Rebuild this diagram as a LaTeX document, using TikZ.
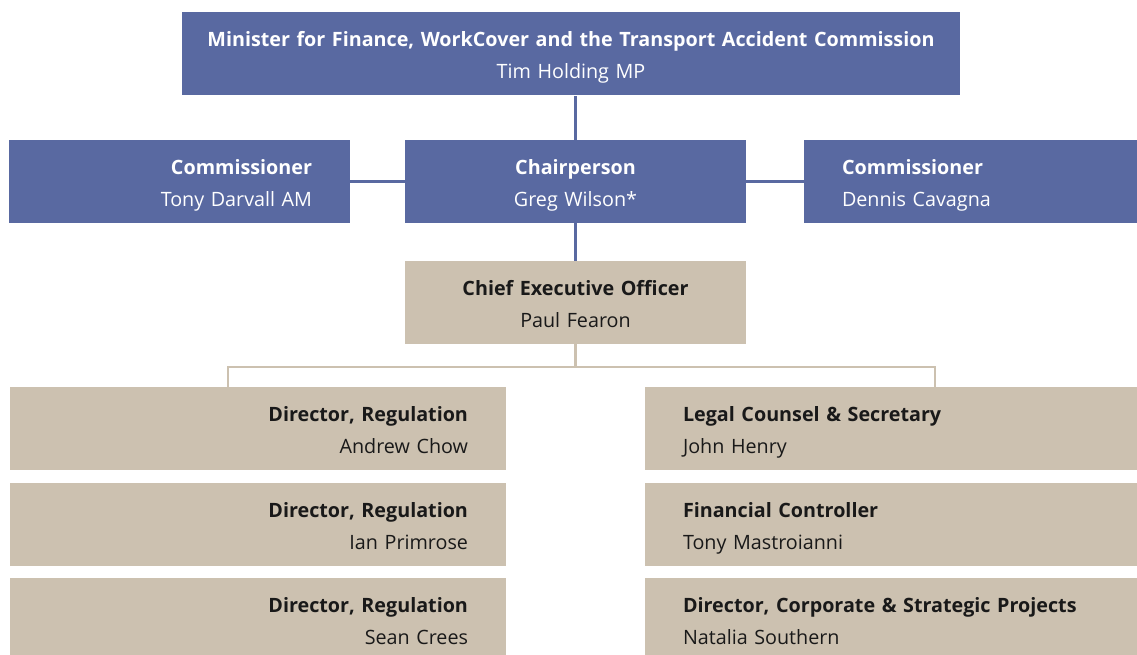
\documentclass[tikz,border=0pt]{standalone}
\usepackage{fontspec}
\setmainfont{Open Sans}
\usetikzlibrary{calc}
\definecolor{boardblue}{RGB}{89,105,161}
\definecolor{stafftan}{RGB}{204,193,176}
\newcommand{\entry}[2]{\rule{0pt}{16.8pt}\textbf{#1}\\#2\rule[-4pt]{0pt}{4pt}}

\begin{document}
\begin{tikzpicture}[x=0.75pt,y=-0.75pt,
		box/.style={inner xsep=28.5pt, inner ysep=0pt, minimum height=62.25pt,
			font=\fontsize{14.8}{24}\selectfont},
		bluebox/.style={box, fill=boardblue, text=white},
		tanbox/.style={box, fill=stafftan, text=black!90},
		blueline/.style={draw=boardblue, line width=1.8pt},
		tanline/.style={draw=stafftan, line width=1.6pt}]
		\useasboundingbox (0,0) rectangle (1137,655);

		% board
		\node[bluebox, inner xsep=11.75pt, text width=560pt, align=center] (minister) at (571,54)
			{\entry{Minister for Finance, WorkCover and the Transport Accident Commission}{Tim Holding MP}};
		\node[bluebox, text width=198.75pt, align=center] (chair) at (575.5,181.5)
			{\entry{Chairperson}{Greg Wilson*}};
		\node[bluebox, text width=198.75pt, align=right] (comml) at (179.5,181.5)
			{\entry{Commissioner}{Tony Darvall AM}};
		\node[bluebox, text width=192.75pt, align=left] (commr) at (970.5,181.5)
			{\entry{Commissioner}{Dennis Cavagna}};

		\draw[blueline] (chair.north) -- (chair.north |- minister.south);
		\draw[blueline] (comml.east) -- (chair.west);
		\draw[blueline] (chair.east) -- (commr.west);

		% executive
		\node[tanbox, text width=198.75pt, align=center] (ceo) at (575.5,302.5)
			{\entry{Chief Executive Officer}{Paul Fearon}};
		\draw[blueline] (chair.south) -- (ceo.north);

		\node[tanbox, text width=315pt, align=right] (reg1) at (258,428.5)
			{\entry{Director, Regulation}{Andrew Chow}};
		\node[tanbox, text width=315pt, align=right] (reg2) at (258,524.5)
			{\entry{Director, Regulation}{Ian Primrose}};
		\node[tanbox, text width=315pt, align=right] (reg3) at (258,619.5)
			{\entry{Director, Regulation}{Sean Crees}};

		\node[tanbox, text width=312pt, align=left] (legal) at (891,428.5)
			{\entry{Legal Counsel \& Secretary}{John Henry}};
		\node[tanbox, text width=312pt, align=left] (finance) at (891,524.5)
			{\entry{Financial Controller}{Tony Mastroianni}};
		\node[tanbox, text width=312pt, align=left] (projects) at (891,619.5)
			{\entry{Director, Corporate \& Strategic Projects}{Natalia Southern}};

		\coordinate (busl) at (228,367);
		\coordinate (busr) at (935,367);
		\draw[tanline] (ceo.south) -- (ceo.south |- busl);
		\draw[tanline] (reg1.north -| busl) |- (busr) -- (busr |- legal.north);
\end{tikzpicture}
\end{document}
